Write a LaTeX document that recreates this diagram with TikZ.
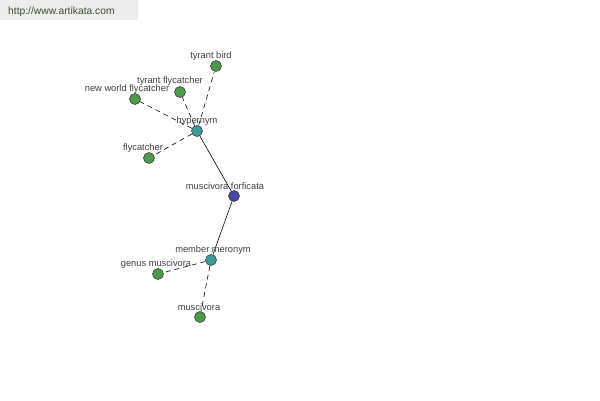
\documentclass[tikz,border=0pt]{standalone}
\usepackage{fontspec}
\setmainfont{Liberation Sans}
\definecolor{ngreen}{HTML}{4C9A4C}
\definecolor{nteal}{HTML}{3C9C9C}
\definecolor{nblue}{HTML}{4646A0}
\definecolor{wmtext}{HTML}{3E4A30}
\begin{document}
\begin{tikzpicture}[x=1pt,y=-1pt,
  dot/.style={circle,draw=black!75,line width=0.6pt,minimum size=11pt,inner sep=0pt},
  gdot/.style={dot,fill=ngreen},
  tdot/.style={dot,fill=nteal},
  bdot/.style={dot,fill=nblue},
  lbl/.style={font=\fontsize{9.3}{10}\selectfont,text=black!75,inner sep=0pt},
  rel/.style={draw=black,line width=0.6pt},
  drel/.style={rel,dash pattern=on 5pt off 4pt}]
\useasboundingbox[fill=white] (0,0) rectangle (600,400);
\fill[black!7] (0,0) rectangle (138,20);
\node[anchor=west,inner sep=0pt,text=wmtext,font=\fontsize{10.3}{11}\selectfont] (wm) at (8,12) {http://www.artikata.com};

\node[gdot] (tb) at (216,66) {};
\node[gdot] (tf) at (180,92) {};
\node[gdot] (nw) at (135,99) {};
\node[tdot] (hy) at (197,131) {};
\node[gdot] (fl) at (149,158) {};
\node[bdot] (mf) at (234,196) {};
\node[tdot] (mm) at (211,260) {};
\node[gdot] (gm) at (158,274) {};
\node[gdot] (mu) at (200,317) {};

\draw[drel] (hy) -- (tb);
\draw[drel] (hy) -- (tf);
\draw[drel] (hy) -- (nw);
\draw[drel] (hy) -- (fl);
\draw[rel] (hy) -- (mf);
\draw[rel] (mf) -- (mm);
\draw[drel] (mm) -- (gm);
\draw[drel] (mm) -- (mu);

\node[lbl] (ltb) at (211,56) {tyrant bird};
\node[lbl] (ltf) at (170,81) {tyrant flycatcher};
\node[lbl] (lnw) at (127,89) {new world flycatcher};
\node[lbl] (lhy) at (197,121) {hypernym};
\node[lbl] (lfl) at (143,148) {flycatcher};
\node[lbl] (lmf) at (225,186) {muscivora forficata};
\node[lbl] (lmm) at (213,250) {member meronym};
\node[lbl] (lgm) at (156,264) {genus muscivora};
\node[lbl] (lmu) at (199,307) {muscivora};
\end{tikzpicture}
\end{document}
